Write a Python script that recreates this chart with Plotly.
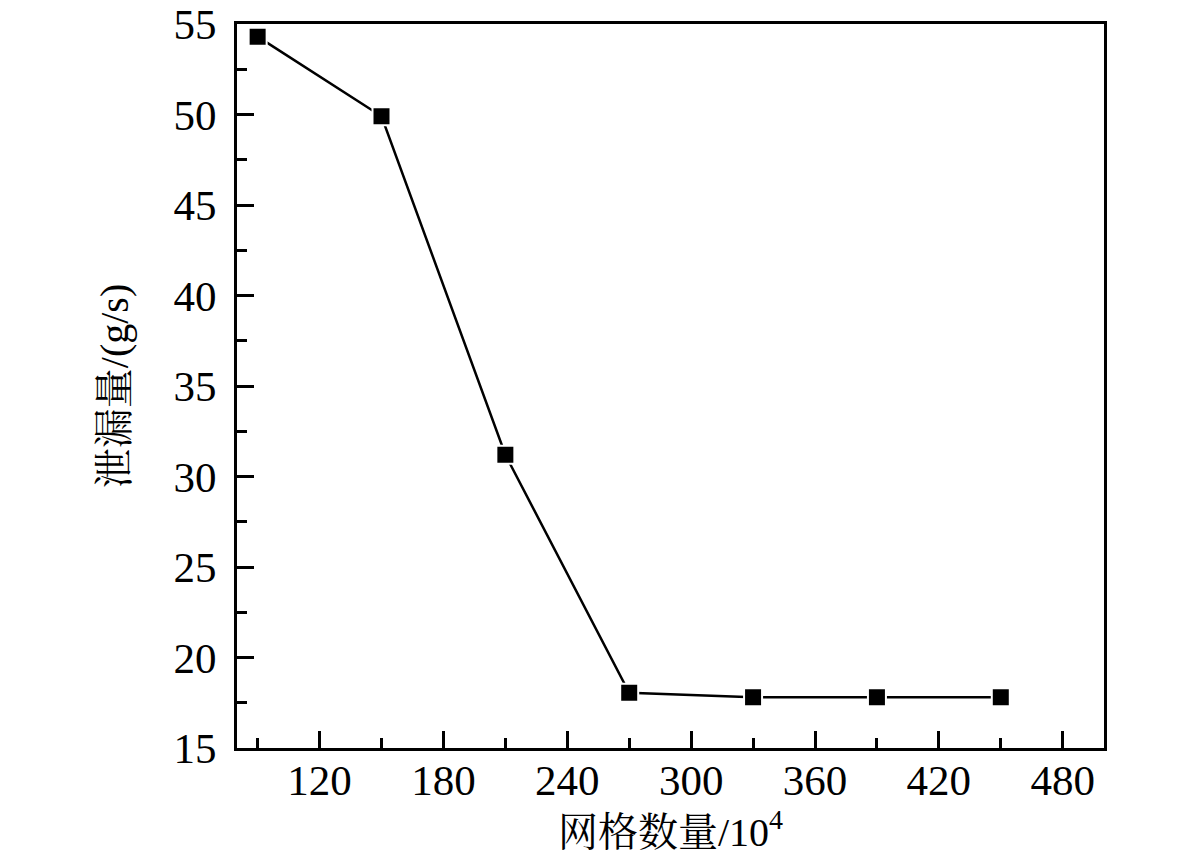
import plotly.graph_objects as go

# grid count (x10^4) vs leakage rate (g/s)
grid_count = [90, 150, 210, 270, 330, 390, 450]
leakage = [54.3, 49.9, 31.2, 18.05, 17.8, 17.8, 17.8]

x_title = "网格数量/10<sup>4</sup>"
y_title = "泄漏量/(g/s)"

font_family = "Liberation Serif, Times New Roman, Noto Serif CJK SC, Noto Sans CJK SC"

fig = go.Figure()
fig.add_trace(go.Scatter(
    x=grid_count, y=leakage,
    mode="lines+markers",
    line=dict(color="black", width=2.5),
    marker=dict(symbol="square", size=18, color="black",
                line=dict(color="white", width=2)),
    showlegend=False,
))

axis_common = dict(
    showline=True, linecolor="black", linewidth=3, mirror=True,
    ticks="inside", ticklen=17, tickwidth=3, tickcolor="black",
    showgrid=False, zeroline=False, automargin=False,
    ticklabeloverflow="allow",
    tickfont=dict(family=font_family, size=43, color="black"),
    title_font=dict(family=font_family, size=40, color="black"),
)

fig.update_xaxes(
    range=[80, 500], tick0=0, dtick=60,
    minor=dict(dtick=30, ticks="inside", ticklen=10, tickwidth=3, tickcolor="black"),
    title_text=x_title, title_standoff=16, ticklabelstandoff=-8,
    **axis_common,
)
fig.update_yaxes(
    range=[15, 55], tick0=0, dtick=5,
    minor=dict(dtick=2.5, ticks="inside", ticklen=10, tickwidth=3, tickcolor="black"),
    title_text=y_title, title_standoff=33, ticklabelstandoff=9,
    **axis_common,
)

# page body adds ~8px offset, so margins are shifted to compensate
fig.update_layout(
    width=1181, height=867,
    margin=dict(l=229, r=85, t=16, b=127),
    plot_bgcolor="white", paper_bgcolor="white",
)

fig.write_html("out.html")
